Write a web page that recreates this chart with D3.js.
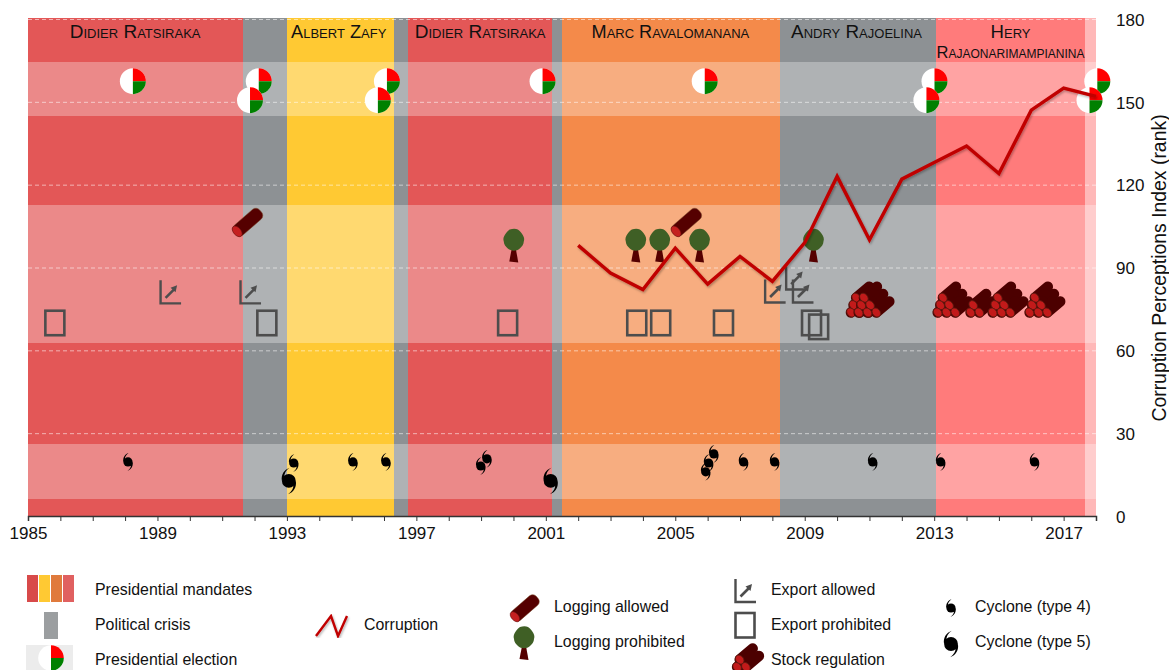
<!DOCTYPE html>
<html>
<head>
<meta charset="utf-8">
<script src="https://d3js.org/d3.v7.min.js"></script>
<style>
  html, body { margin: 0; padding: 0; background: #fff; }
  svg { display: block; }
  text { font-family: "Liberation Sans", Arial, sans-serif; fill: #111; }
</style>
</head>
<body>
<div id="chart"></div>
<script>
// mandates and crises, years
const periodStart = [1985, 1991.65, 1993, 1996.32, 1996.75, 2001.2, 2001.5, 2008.23, 2013.05, 2017.66]
const periodEnd = [1991.65, 1993, 1996.32, 1996.75, 2001.2, 2001.5, 2008.23, 2013.05, 2017.66, 2018]
const periodColor = ['#e35757', '#8d9194', '#ffc933', '#8d9194', '#e35757', '#8d9194', '#f48a4a', '#8d9194', '#ff7b7b', '#ffb8b8']

const presidents = ['Didier Ratsiraka', 'Albert Zafy', 'Didier Ratsiraka', 'Marc Ravalomanana', 'Andry Rajoelina', 'Hery', 'Rajaonarimampianina']
const presidentYear = [1988.31, 1994.6, 1998.97, 2004.85, 2010.6, 2015.36, 2015.36]
const presidentRank = [173, 173, 173, 173, 173, 173, 166]
const presidentSize = [19, 18.2, 19, 18.1, 18.9, 18.6, 16.5]

// lighter horizontal strips, rank from / to
const stripFrom = [145, 62.5, 6]
const stripTo = [164.5, 112.5, 26]

const corruptionYears = [2002, 2003, 2004, 2005, 2006, 2007, 2008, 2009, 2010, 2011, 2012, 2013, 2014, 2015, 2016, 2017, 2018]
const corruptionRank = [98, 88, 82, 97, 84, 94, 85, 99, 123, 100, 122, 128, 134, 124, 147, 155, 152]

const electionYears = [1988.24, 1992.13, 1991.86, 1996.09, 1995.81, 2000.9, 2005.91, 2013.01, 2012.76, 2018.04, 2017.8]
const electionRank = [157.5, 157.5, 150.6, 157.5, 150.6, 157.5, 157.5, 157.5, 150.6, 157.5, 150.6]

const loggingAllowedYears = [1991.79, 2005.35]
const loggingAllowedRank = [106.4, 106.4]
const loggingProhibitedYears = [2000.01, 2003.78, 2004.52, 2005.75, 2009.27]
const loggingProhibitedRank = [98, 98, 98, 98, 98]

const exportAllowedYears = [1989.39, 1991.86, 2008.07, 2008.72, 2008.93]
const exportAllowedRank = [81, 81, 81.3, 86, 81.3]
const exportProhibitedYears = [1985.83, 1992.38, 1999.82, 2003.81, 2004.55, 2006.49, 2009.21, 2009.43]
const exportProhibitedRank = [70, 70, 70, 70, 70, 70, 70, 68.6]

const stockYears = [2010.7, 2010.94, 2013.38, 2014.26, 2015.08, 2016.22]
const stockRank = [73.7, 73.7, 73.7, 73.7, 73.7, 73.7]
const stockRows = [3, 3, 3, 2, 3, 3]

const cyclone4Years = [1988.09, 1993.21, 1995.04, 1996.06, 1999.18, 1998.99, 2006.19, 2006.03, 2005.94, 2007.11, 2008.07, 2011.1, 2013.2, 2016.1]
const cyclone4Rank = [19.6, 19.2, 19.6, 19.6, 20.7, 18.1, 22.5, 19.2, 16, 19.6, 19.6, 19.6, 19.6, 19.6]
const cyclone5Years = [1993.06, 2001.15]
const cyclone5Rank = [12.7, 12.7]

const xTickYears = [1985, 1989, 1993, 1997, 2001, 2005, 2009, 2013, 2017]
const yTicks = [0, 30, 60, 90, 120, 150, 180]

const margin = { top: 19, left: 28 }
const width = 1068
const height = 497

const svg = d3.select('#chart').append('svg')
  .attr('width', 1169)
  .attr('height', 670)

const defs = svg.append('defs')
const shadow = defs.append('filter').attr('id', 'shadow')
  .attr('x', '-10%').attr('y', '-10%').attr('width', '120%').attr('height', '120%')
shadow.append('feDropShadow')
  .attr('dx', 1).attr('dy', 1.5).attr('stdDeviation', 1)
  .attr('flood-color', '#000').attr('flood-opacity', 0.3)

const xScale = d3.scaleLinear().domain([1985, 2018]).range([0, width])
const yScale = d3.scaleLinear().domain([0, 180]).range([height, 0])

const plot = svg.append('g')
  .attr('transform', `translate(${margin.left},${margin.top})`)

// backgrounds
plot.selectAll('.period')
  .data(periodStart)
  .enter().append('rect')
  .attr('class', 'period')
  .attr('x', (d) => xScale(d))
  .attr('y', -1)
  .attr('width', (d, i) => xScale(periodEnd[i]) - xScale(d))
  .attr('height', height + 1)
  .attr('fill', (d, i) => periodColor[i])
  .attr('shape-rendering', 'crispEdges')

plot.selectAll('.strip')
  .data(stripFrom)
  .enter().append('rect')
  .attr('class', 'strip')
  .attr('x', 0)
  .attr('y', (d, i) => yScale(stripTo[i]))
  .attr('width', width)
  .attr('height', (d, i) => yScale(d) - yScale(stripTo[i]))
  .attr('fill', '#fff')
  .attr('opacity', 0.3)
  .attr('shape-rendering', 'crispEdges')

plot.selectAll('.grid')
  .data(yTicks.slice(1))
  .enter().append('line')
  .attr('class', 'grid')
  .attr('x1', 0)
  .attr('x2', width)
  .attr('y1', (d) => yScale(d) + 0.5)
  .attr('y2', (d) => yScale(d) + 0.5)
  .attr('stroke', '#fff')
  .attr('stroke-opacity', 0.55)
  .attr('stroke-dasharray', '4 3')

// axes
const xAxis = plot.append('g')
  .attr('transform', `translate(0,${height})`)
  .call(d3.axisBottom(xScale)
    .tickValues(d3.range(1985, 2019))
    .tickSize(5)
    .tickFormat((d) => xTickYears.includes(d) ? d : ''))
xAxis.select('.domain').attr('stroke', '#333').attr('stroke-width', 1.5)
xAxis.selectAll('line').attr('stroke', '#333')
xAxis.selectAll('text')
  .attr('y', 11)
  .style('font-family', '"Liberation Sans", Arial, sans-serif')
  .style('font-size', '17px')
  .attr('fill', '#111')

const yAxis = plot.append('g')
  .attr('transform', `translate(${width},0)`)
  .call(d3.axisRight(yScale).tickValues(yTicks).tickSize(0).tickPadding(20))
yAxis.select('.domain').remove()
yAxis.selectAll('text')
  .attr('dy', '0.37em')
  .style('font-family', '"Liberation Sans", Arial, sans-serif')
  .style('font-size', '17px')
  .attr('fill', '#111')

svg.append('text')
  .attr('transform', 'translate(1166,268) rotate(-90)')
  .attr('text-anchor', 'middle')
  .style('font-size', '19.4px')
  .text('Corruption Perceptions Index (rank)')

// president names
plot.selectAll('.president')
  .data(presidents)
  .enter().append('text')
  .attr('class', 'president')
  .attr('x', (d, i) => xScale(presidentYear[i]))
  .attr('y', (d, i) => yScale(presidentRank[i]))
  .attr('text-anchor', 'middle')
  .style('font-size', (d, i) => presidentSize[i] + 'px')
  .style('font-variant', 'small-caps')
  .text((d) => d)

// icons, drawn around their own origin
function flag (g, r) {
  g.append('circle').attr('r', r).attr('fill', '#fff')
  const arc = d3.arc().innerRadius(0).outerRadius(r)
  g.append('path')
    .attr('fill', '#f00')
    .attr('d', arc({ startAngle: 0, endAngle: Math.PI / 2 }))
  g.append('path')
    .attr('fill', '#008000')
    .attr('d', arc({ startAngle: Math.PI / 2, endAngle: Math.PI }))
}

function log (g, scale) {
  const s = scale || 1
  const body = g.append('g')
    .attr('transform', `rotate(-41) scale(${s})`)
  body.append('rect')
    .attr('x', -17).attr('y', -6.5).attr('width', 34).attr('height', 13).attr('rx', 5)
    .attr('fill', '#550000').attr('stroke', '#7a4a2a').attr('stroke-width', 0.5)
  body.append('ellipse')
    .attr('cx', -14).attr('rx', 3.8).attr('ry', 6.2)
    .attr('fill', '#c42020').attr('stroke', '#6d1010').attr('stroke-width', 0.6)
}

function tree (g) {
  g.append('path')
    .attr('d', 'M-2,3 L2,3 L4.5,17 L-4.5,16 Z')
    .attr('fill', '#550000')
  g.append('path')
    .attr('d', 'M-4,-16 C-1,-17 2,-17 4,-16 C6,-15 7,-13 8,-12 C10,-9 11,-7 10,-4 C10,-1 8,1 6,3 C3,6 -3,6 -6,3 C-8,1 -10,-1 -10,-4 C-11,-7 -10,-9 -8,-12 C-7,-13 -6,-15 -4,-16 Z')
    .attr('fill', '#3f5f25')
}

function exportUp (g) {
  g.append('path')
    .attr('d', 'M-9.5,-12 L-9.5,11 L11,11')
    .attr('fill', 'none')
    .attr('stroke', '#4d4d4d')
    .attr('stroke-width', 2.4)
  g.append('path')
    .attr('d', 'M-4.5,5.5 L4,-3')
    .attr('stroke', '#4d4d4d')
    .attr('stroke-width', 2.6)
  g.append('path')
    .attr('d', 'M7,-7 L5.5,0 L0.5,-4.5 Z')
    .attr('fill', '#4d4d4d')
}

function exportBox (g) {
  g.append('rect')
    .attr('x', -9.5).attr('y', -12).attr('width', 19).attr('height', 24.5)
    .attr('fill', 'none')
    .attr('stroke', '#4d4d4d')
    .attr('stroke-width', 2.6)
}

function stock (g, rows) {
  const logs = []
  d3.range(rows - 1, -1, -1).forEach((row) => {
    d3.range(rows - row - 1, -1, -1).forEach((col) => {
      logs.push({ cx: (col - (rows - 1) / 2) * 8.8 + row * 2.6, cy: -row * 7.4 })
    })
  })
  // bodies behind, fronts on top
  logs.forEach((l) => {
    g.append('line')
      .attr('x1', l.cx).attr('y1', l.cy)
      .attr('x2', l.cx + 13).attr('y2', l.cy - 11)
      .attr('stroke', '#4c0000')
      .attr('stroke-width', 10.5)
      .attr('stroke-linecap', 'round')
  })
  logs.forEach((l) => {
    g.append('ellipse')
      .attr('transform', `translate(${l.cx},${l.cy}) rotate(-40)`)
      .attr('rx', 3.8).attr('ry', 4.9)
      .attr('fill', '#c21a1a')
      .attr('stroke', '#5c1a10')
      .attr('stroke-width', 0.8)
  })
}

function cyclone (g, s) {
  const body = g.append('g').attr('transform', `scale(${s})`)
  body.append('circle').attr('r', 4.6).attr('fill', '#000')
  body.append('path')
    .attr('d', 'M-4.6,0 C-5.4,-4 -3.2,-7.5 0.5,-8.8 C-2,-7 -3.2,-5 -3,-2.5 Z')
    .attr('fill', '#000')
  body.append('path')
    .attr('d', 'M4.6,0 C5.4,4 3.2,7.5 -0.5,8.8 C2,7 3.2,5 3,2.5 Z')
    .attr('fill', '#000')
}

const at = (years, ranks) => years.map((y, i) => ({ x: xScale(y), y: yScale(ranks[i]), i }))

function place (cls, points, draw) {
  plot.selectAll('.' + cls)
    .data(points)
    .enter().append('g')
    .attr('class', cls)
    .attr('transform', (d) => `translate(${d.x},${d.y})`)
    .each(function (d) { draw(d3.select(this), d) })
}

place('logging-prohibited', at(loggingProhibitedYears, loggingProhibitedRank), (g) => tree(g))
place('export-allowed', at(exportAllowedYears, exportAllowedRank), (g) => exportUp(g))
place('export-prohibited', at(exportProhibitedYears, exportProhibitedRank), (g) => exportBox(g))
place('stock', at(stockYears, stockRank), (g, d) => stock(g, stockRows[d.i]))
place('logging-allowed', at(loggingAllowedYears, loggingAllowedRank), (g) => log(g))
place('cyclone4', at(cyclone4Years, cyclone4Rank), (g) => cyclone(g, 1))
place('cyclone5', at(cyclone5Years, cyclone5Rank), (g) => cyclone(g, 1.5))
place('election', at(electionYears, electionRank), (g) => flag(g, 13))

// corruption line
const line = d3.line()
  .x((d, i) => xScale(corruptionYears[i]))
  .y((d) => yScale(d))

plot.append('path')
  .datum(corruptionRank)
  .attr('d', line)
  .attr('fill', 'none')
  .attr('stroke', '#c00000')
  .attr('stroke-width', 3.4)
  .attr('stroke-linejoin', 'miter')
  .attr('filter', 'url(#shadow)')

// legend
const legend = svg.append('g')
const legendText = (x, y, s) => legend.append('text')
  .attr('x', x).attr('y', y)
  .style('font-size', '15.9px')
  .text(s)
const legendIcon = (x, y, draw) => draw(legend.append('g').attr('transform', `translate(${x},${y})`))

const swatchColors = ['#d84a4a', '#ffc933', '#e07a3c', '#e06060']
legend.selectAll('.swatch')
  .data(swatchColors)
  .enter().append('rect')
  .attr('class', 'swatch')
  .attr('x', (d, i) => 27 + i * 12)
  .attr('y', 575)
  .attr('width', 11)
  .attr('height', 27)
  .attr('fill', (d) => d)
legendText(95, 595, 'Presidential mandates')

legend.append('rect')
  .attr('x', 44).attr('y', 612).attr('width', 14).attr('height', 27)
  .attr('fill', '#9b9ea0')
legendText(95, 630, 'Political crisis')

legend.append('rect')
  .attr('x', 26).attr('y', 645).attr('width', 47).attr('height', 25)
  .attr('fill', '#ececec')
legendIcon(51, 658, (g) => flag(g, 12.8))
legendText(95, 665, 'Presidential election')

legend.append('path')
  .attr('d', 'M316,636 L331,616 L338,636 L347,616')
  .attr('fill', 'none')
  .attr('stroke', '#c00000')
  .attr('stroke-width', 2.4)
  .attr('filter', 'url(#shadow)')
legendText(364, 630, 'Corruption')

legendIcon(525, 608, (g) => log(g, 0.95))
legendText(554, 612, 'Logging allowed')
legendIcon(524, 643, (g) => tree(g))
legendText(554, 647, 'Logging prohibited')

legendIcon(745, 591, (g) => exportUp(g))
legendText(771, 595, 'Export allowed')
legendIcon(745, 625, (g) => exportBox(g))
legendText(771, 630, 'Export prohibited')
legendIcon(741.5, 667, (g) => stock(g, 2))
legendText(771, 665, 'Stock regulation')

legendIcon(951, 608, (g) => cyclone(g, 1))
legendText(975, 612, 'Cyclone (type 4)')
legendIcon(951, 644, (g) => cyclone(g, 1.5))
legendText(975, 647, 'Cyclone (type 5)')
</script>
</body>
</html>
